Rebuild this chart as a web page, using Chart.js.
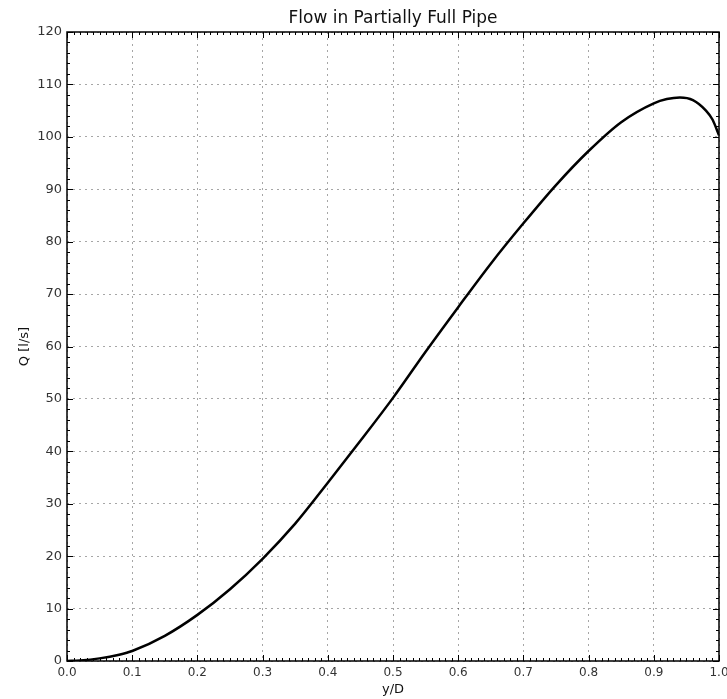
<!DOCTYPE html>
<html lang="en">
<head>
    <meta charset="UTF-8">
    <title>Flow in Partially Full Pipe</title>
    <script src="https://cdn.jsdelivr.net/npm/chart.js"></script>
    <style>
        html, body { margin: 0; padding: 0; background: #fff; }
        #wrap { width: 727px; height: 699px; }
    </style>
</head>
<body>
    <div id="wrap"><canvas id="flowChart"></canvas></div>

    <script>
        // relative depth y/D and flow Q [l/s]
        const depthRatio = [0, 0.02, 0.05, 0.08, 0.1, 0.15, 0.2, 0.25, 0.3, 0.35, 0.4, 0.45, 0.5,
                            0.55, 0.6, 0.65, 0.7, 0.75, 0.8, 0.85, 0.9, 0.92, 0.94, 0.96, 0.98, 0.99, 1.0];
        const flowValues = [0, 0.1, 0.5, 1.2, 1.9, 4.8, 8.8, 13.7, 19.5, 26.2, 34.0, 42.0, 50.2,
                            59.0, 67.5, 75.8, 83.5, 90.8, 97.3, 102.8, 106.4, 107.2, 107.5, 107.0, 105.0, 103.3, 100.3];
        const xTicks = [0, 0.1, 0.2, 0.3, 0.4, 0.5, 0.6, 0.7, 0.8, 0.9, 1.0];
        const yTicks = [0, 10, 20, 30, 40, 50, 60, 70, 80, 90, 100, 110, 120];

        const font = 'DejaVu Sans';

        // matplotlib-style frame with inward major/minor ticks on all sides
        const frameTicks = {
            id: 'frameTicks',
            afterDraw(chart) {
                const {ctx, chartArea: a, scales: {x, y}} = chart;
                ctx.save();
                ctx.strokeStyle = '#000';
                ctx.lineWidth = 1;
                ctx.beginPath();
                for (let i = 0; i <= 100; i++) {
                    const px = Math.round(x.getPixelForValue(i / 100)) + 0.5;
                    const len = i % 10 === 0 ? 6 : 3;
                    ctx.moveTo(px, a.bottom); ctx.lineTo(px, a.bottom - len);
                    ctx.moveTo(px, a.top); ctx.lineTo(px, a.top + len);
                }
                for (let v = 0; v <= 120; v += 2) {
                    const py = Math.round(y.getPixelForValue(v)) + 0.5;
                    const len = v % 10 === 0 ? 6 : 3;
                    ctx.moveTo(a.left, py); ctx.lineTo(a.left + len, py);
                    ctx.moveTo(a.right, py); ctx.lineTo(a.right - len, py);
                }
                ctx.stroke();
                ctx.lineWidth = 1.5;
                ctx.strokeRect(a.left, a.top, a.right - a.left, a.bottom - a.top);
                ctx.restore();
            }
        };

        const ctx = document.getElementById('flowChart').getContext('2d');
        new Chart(ctx, {
            type: 'line',
            data: {
                datasets: [{
                    data: depthRatio.map((d, i) => ({x: d, y: flowValues[i]})),
                    borderColor: '#000',
                    borderWidth: 2.5,
                    pointRadius: 0,
                    cubicInterpolationMode: 'monotone',
                    fill: false
                }]
            },
            options: {
                responsive: true,
                maintainAspectRatio: false,
                animation: false,
                layout: { padding: { right: 8 } },
                plugins: {
                    legend: { display: false },
                    tooltip: { enabled: false },
                    title: {
                        display: true,
                        fullSize: false,
                        text: 'Flow in Partially Full Pipe',
                        color: '#111',
                        font: { family: font, size: 17, weight: 'normal' },
                        padding: { top: 8, bottom: 3.6 }
                    }
                },
                scales: {
                    x: {
                        type: 'linear',
                        min: 0,
                        max: 1,
                        afterBuildTicks: (s) => { s.ticks = xTicks.map(v => ({value: v})); },
                        afterFit: (s) => { s.height = 38; s.paddingRight = 0; },
                        ticks: {
                            color: '#333',
                            padding: 5,
                            maxRotation: 0,
                            font: { family: font, size: 12 },
                            callback: (v) => v.toFixed(1)
                        },
                        grid: { color: 'rgba(0,0,0,0.35)', lineWidth: 1, drawTicks: false },
                        border: { display: false, dash: [2, 4] },
                        title: {
                            display: true,
                            text: 'y/D',
                            color: '#111',
                            font: { family: font, size: 13 },
                            padding: { top: 0, bottom: 1.2 }
                        }
                    },
                    y: {
                        min: 0,
                        max: 120,
                        afterBuildTicks: (s) => { s.ticks = yTicks.map(v => ({value: v})); },
                        afterFit: (s) => { s.width = 67; },
                        ticks: {
                            color: '#333',
                            padding: 5,
                            font: { family: font, size: 13 }
                        },
                        grid: { color: 'rgba(0,0,0,0.35)', lineWidth: 1, drawTicks: false },
                        border: { display: false, dash: [2, 4] },
                        title: {
                            display: true,
                            text: 'Q [l/s]',
                            color: '#111',
                            font: { family: font, size: 13 },
                            padding: { top: 17.2, bottom: 0 }
                        }
                    }
                }
            },
            plugins: [frameTicks]
        });
    </script>
</body>
</html>
